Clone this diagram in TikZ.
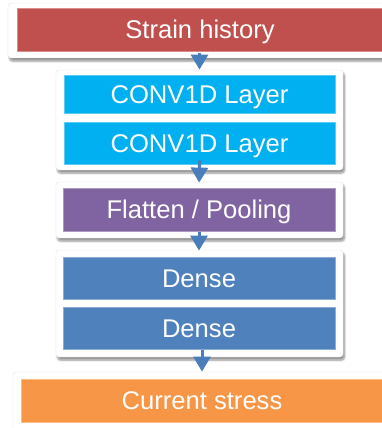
\documentclass[tikz,border=0pt]{standalone}
\usepackage{fontspec}
\setmainfont{Liberation Sans}
\usetikzlibrary{arrows.meta,shadows.blur}
\definecolor{cred}{HTML}{C0504D}
\definecolor{cblue}{HTML}{00B0F0}
\definecolor{cpurple}{HTML}{8064A2}
\definecolor{cdense}{HTML}{4F81BD}
\definecolor{corange}{HTML}{F79646}
\definecolor{carrow}{HTML}{4A7EBB}
\tikzset{
  card/.style={fill=white, draw=black!10, rounded corners=3pt,
    blur shadow={shadow xshift=1.5pt, shadow yshift=-3pt, shadow blur steps=6, shadow opacity=45}},
  layer/.style={inner sep=0pt, text=white, font=\fontsize{25.6}{30}\selectfont,
    text height=18.3pt, text depth=0pt, line width=0.8pt},
  flow/.style={draw=carrow, line width=3pt, -{Triangle[width=17pt,length=15pt]}}
}
\begin{document}
\begin{tikzpicture}[x=1pt,y=-1pt]
\useasboundingbox (0,0) rectangle (382,428);
% cards
\path[card] (8,3) rectangle (392,58);
\path[card] (56,70) rectangle (343,170);
\path[card] (56,182) rectangle (343,238);
\path[card] (56,250) rectangle (343,357);
\path[card] (13,372) rectangle (392,436);
% layers
\node[layer, fill=cred, draw=cred!65!white, minimum width=366pt, minimum height=43pt] (strain) at (200,29.5) {Strain history};
\node[layer, fill=cblue, draw=cblue!65!white, minimum width=271pt, minimum height=38pt] (conv1) at (199.5,94) {CONV1D Layer};
\node[layer, fill=cblue, draw=cblue!65!white, minimum width=271pt, minimum height=42pt] (conv2) at (199.5,143) {CONV1D Layer};
\node[layer, fill=cpurple, draw=cpurple!65!white, minimum width=272pt, minimum height=43pt] (flat) at (199,209.5) {Flatten / Pooling};
\node[layer, fill=cdense, draw=cdense!65!white, minimum width=272pt, minimum height=42pt] (dense1) at (199,278) {Dense};
\node[layer, fill=cdense, draw=cdense!65!white, minimum width=272pt, minimum height=42pt] (dense2) at (199,328) {Dense};
\node[layer, fill=corange, draw=corange!65!white, minimum width=362pt, minimum height=43pt] (stress) at (202,400.5) {Current stress};
% connectors
\draw[flow, shorten <=2pt, shorten >=5pt] (conv1.north |- strain.south) -- (conv1.north);
\draw[flow, shorten <=-4pt, shorten >=5pt] (conv2.south) -- (flat.north);
\draw[flow, shorten <=1pt, shorten >=6pt] (flat.south) -- (dense1.north);
\draw[flow, shorten <=1pt, shorten >=7pt] (stress.north |- dense2.south) -- (stress.north);
\end{tikzpicture}
\end{document}
